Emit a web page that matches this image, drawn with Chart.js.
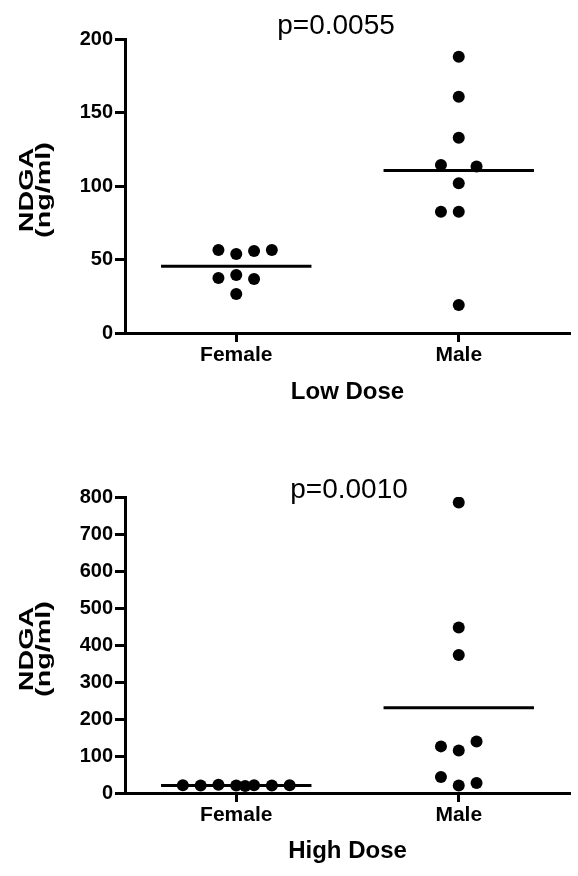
<!DOCTYPE html>
<html>
<head>
<meta charset="utf-8">
<script src="https://cdn.jsdelivr.net/npm/chart.js@4.4.0/dist/chart.umd.min.js"></script>
<style>
  html, body { margin: 0; padding: 0; background: #fff; }
  #wrap { position: relative; width: 578px; height: 876px; }
  .panel { position: absolute; left: 0; width: 578px; height: 438px; }
</style>
</head>
<body>
<div id="wrap">
  <div class="panel" style="top:0"><canvas id="lowChart"></canvas></div>
  <div class="panel" style="top:438px"><canvas id="highChart"></canvas></div>
</div>
<script>
// data (ng/ml)
const groups = ['Female', 'Male'];

const lowFemale = [56.5, 53.7, 55.8, 56.5, 37.4, 39.5, 36.7, 26.5];
const lowMale = [188, 160.7, 132.9, 114.3, 113.2, 101.8, 82.5, 82.5, 19];
const highFemale = [21, 20, 22, 20, 19, 21, 20, 21];
const highMale = [785, 447, 373, 126, 115, 139, 43, 20, 27];

// column slot of each dot (scatter arrangement, as in the figure)
const lowFemaleSlot = [-1, 0, 1, 2, -1, 0, 1, 0];
const lowMaleSlot = [0, 0, 0, -1, 1, 0, -1, 0, 0];
const highFemaleSlot = [-3, -2, -1, 0, 0.5, 1, 2, 3];
const highMaleSlot = [0, 0, 0, -1, 0, 1, -1, 0, 1];

const lowTicks = [0, 50, 100, 150, 200];
const highTicks = [0, 100, 200, 300, 400, 500, 600, 700, 800];

const pLow = 'p=0.0055';
const pHigh = 'p=0.0010';

const FONT = "'Liberation Sans', Arial, Helvetica, sans-serif";
const SLOT = 0.08;     // horizontal step between dots (x units)
const HALF = 0.338;    // half width of mean line

function mean(a) {
    return a.reduce((s, v) => s + v, 0) / a.length;
}

// p-value text + rotated y title
const textPlugin = {
    id: 'panelText',
    afterDraw(chart, args, opts) {
        const ctx = chart.ctx;
        const area = chart.chartArea;
        ctx.save();
        ctx.fillStyle = '#000';
        ctx.font = '28px ' + FONT;
        ctx.textAlign = 'center';
        ctx.textBaseline = 'alphabetic';
        ctx.fillText(opts.pText, opts.pX, opts.pY);

        // y title, stretched along its length like the original
        const cy = (area.top + area.bottom) / 2 + 4;
        ctx.font = 'bold 21px ' + FONT;
        const lines = ['NDGA', '(ng/ml)'];
        const base = [33, 50];
        lines.forEach((t, i) => {
            ctx.save();
            ctx.translate(base[i], cy);
            ctx.rotate(-Math.PI / 2);
            ctx.scale(1.37, 1);
            ctx.fillText(t, 0, 0);
            ctx.restore();
        });
        ctx.restore();
    }
};

function buildChart(id, cfg) {
    const ctx = document.getElementById(id).getContext('2d');
    const datasets = [];
    cfg.series.forEach((vals, g) => {
        const slots = cfg.slots[g];
        datasets.push({
            data: vals.map((v, i) => ({ x: g + 1 + slots[i] * SLOT, y: v })),
            pointRadius: 6,
            pointHoverRadius: 6,
            backgroundColor: '#000',
            borderWidth: 0
        });
        const m = mean(vals);
        datasets.push({
            data: [{ x: g + 1 - HALF, y: m }, { x: g + 1 + HALF, y: m }],
            showLine: true,
            borderColor: '#000',
            borderWidth: 3,
            pointRadius: 0
        });
    });

    return new Chart(ctx, {
        type: 'scatter',
        data: { datasets: datasets },
        options: {
            responsive: true,
            maintainAspectRatio: false,
            animation: false,
            layout: { padding: { top: cfg.plotTop, right: 8, left: 0, bottom: 0 } },
            plugins: {
                legend: { display: false },
                tooltip: { enabled: false },
                panelText: { pText: cfg.pText, pX: cfg.pX, pY: cfg.pY }
            },
            scales: {
                x: {
                    type: 'linear',
                    min: 0.5,
                    max: 2.5,
                    afterBuildTicks: s => { s.ticks = groups.map((n, i) => ({ value: i + 1 })); },
                    ticks: {
                        callback: v => groups[v - 1],
                        font: { family: FONT, size: 21, weight: 'bold' },
                        color: '#000',
                        padding: 1,
                        maxRotation: 0,
                        autoSkip: false
                    },
                    grid: { drawOnChartArea: false, drawTicks: true, tickLength: 9, tickWidth: 3, tickColor: '#000' },
                    border: { width: 3, color: '#000' },
                    title: {
                        display: true,
                        text: cfg.xTitle,
                        color: '#000',
                        font: { family: FONT, size: 24, weight: 'bold' },
                        padding: { top: 0, bottom: cfg.xTitlePad }
                    },
                    afterFit: s => { s.height = 438 - cfg.plotBottom; }
                },
                y: {
                    min: 0,
                    max: cfg.ticks[cfg.ticks.length - 1],
                    afterBuildTicks: s => { s.ticks = cfg.ticks.map(v => ({ value: v })); },
                    ticks: {
                        font: { family: FONT, size: 20, weight: 'bold' },
                        color: '#000',
                        padding: 2
                    },
                    grid: { drawOnChartArea: false, drawTicks: true, tickLength: 10, tickWidth: 3, tickColor: '#000' },
                    border: { width: 3, color: '#000' },
                    afterFit: s => { s.width = 125; }
                }
            }
        },
        plugins: [textPlugin]
    });
}

buildChart('lowChart', {
    series: [lowFemale, lowMale],
    slots: [lowFemaleSlot, lowMaleSlot],
    ticks: lowTicks,
    xTitle: 'Low Dose',
    pText: pLow, pX: 336, pY: 34,
    plotTop: 39, plotBottom: 333,
    xTitlePad: 31
});

buildChart('highChart', {
    series: [highFemale, highMale],
    slots: [highFemaleSlot, highMaleSlot],
    ticks: highTicks,
    xTitle: 'High Dose',
    pText: pHigh, pX: 349, pY: 60,
    plotTop: 59, plotBottom: 355,
    xTitlePad: 10
});
</script>
</body>
</html>
